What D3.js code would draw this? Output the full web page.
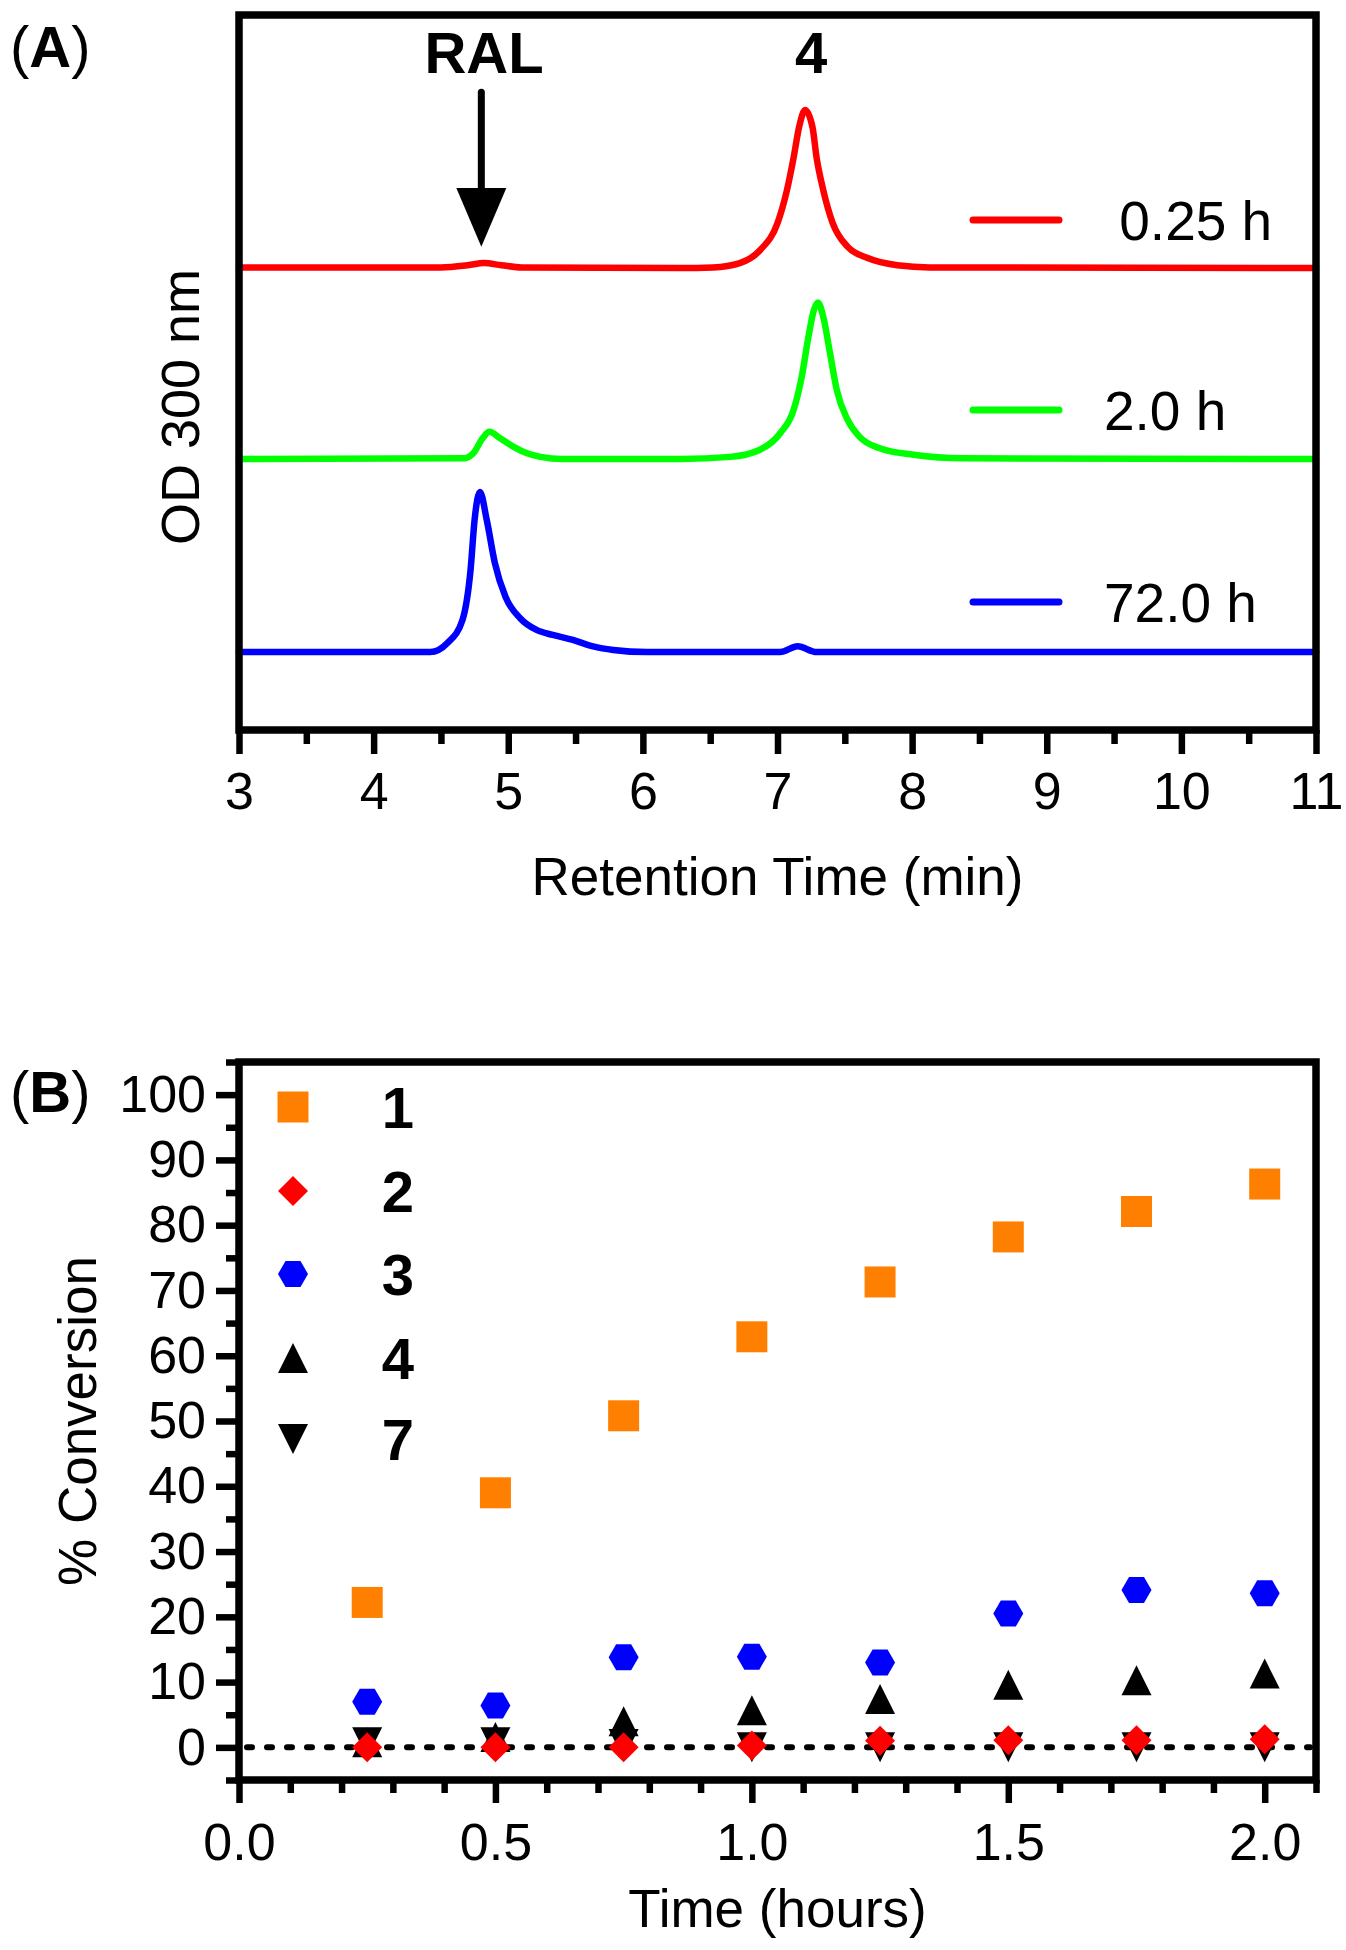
<!DOCTYPE html>
<html><head><meta charset="utf-8">
<script src="https://cdn.jsdelivr.net/npm/d3@7"></script>
<style>
body{margin:0;background:#fff}
svg text{font-family:"Liberation Sans",Arial,Helvetica,sans-serif;fill:#000}
</style>
</head><body>
<svg id="chart" width="1346" height="1950"></svg>
<script>
// ---------- Panel A data (chromatograms) ----------
const A_X_TICKS = [3,4,5,6,7,8,9,10,11];
const A_X_MINOR = [3.5,4.5,5.5,6.5,7.5,8.5,9.5,10.5];
const A_LABELS = [" 0.25 h","2.0 h","72.0 h"];
const A_COLORS = ["#ff0000","#00ff00","#0000ff"];

const A_T_RED  = [3.00,4.50,4.70,4.82,4.95,5.10,6.28,6.52,6.72,6.87,7.00,7.07,7.12,7.16,7.205,7.26,7.29,7.34,7.41,7.52,7.67,7.89,8.13,11.0];
const A_V_RED  = [64.7,64.7,65.0,65.3,65.0,64.7,64.6,64.7,65.3,67.1,70.9,75.5,80.1,84.3,86.7,84.3,80.1,75.5,70.9,67.6,66.0,65.0,64.7,64.6];

const A_T_GREEN = [3.00,4.67,4.74,4.81,4.86,4.94,5.04,5.14,5.24,5.40,6.28,6.65,6.87,7.02,7.12,7.18,7.23,7.27,7.30,7.34,7.39,7.44,7.52,7.61,7.76,8.01,8.38,11.0];
const A_V_GREEN = [37.9,38.0,38.7,40.8,41.7,40.8,39.6,38.7,38.2,37.9,37.9,38.2,39.2,41.5,44.8,49.4,55.0,58.7,59.8,57.8,52.7,47.6,43.4,41.0,39.4,38.5,38.0,37.9];

const A_T_BLUE = [3.00,4.42,4.55,4.66,4.72,4.75,4.79,4.84,4.90,4.98,5.09,5.21,5.33,5.48,5.63,5.78,6.03,7.02,7.15,7.29,11.0];
const A_V_BLUE = [10.9,10.9,12.2,15.4,22.4,29.4,33.3,29.4,23.4,18.6,15.6,14.0,13.3,12.6,11.7,11.2,10.9,10.9,11.7,10.9,10.9];

// ---------- Panel B data (% conversion) ----------
const B_TIME = [0.25,0.5,0.75,1.0,1.25,1.5,1.75,2.0];
const B_S1 = [22.2,39.0,50.8,62.9,71.3,78.2,82.1,86.3];
const B_S2 = [0.0,0.0,0.0,0.3,1.0,1.1,1.1,1.25];
const B_S3 = [7.0,6.4,13.8,13.9,13.0,20.5,24.1,23.6];
const B_S4 = [0.8,1.6,4.0,5.7,7.4,9.6,10.3,11.3];
const B_S7 = [0.8,0.8,0.5,0.0,0.0,0.0,0.0,0.0];
const B_NAMES = ["1","2","3","4","7"];
const B_COLORS = ["#ff8000","#ff0000","#0000ff","#000000","#000000"];
const B_Y_TICKS = [0,10,20,30,40,50,60,70,80,90,100];
const B_Y_MINOR = [-5,5,15,25,35,45,55,65,75,85,95,105];
const B_X_TICKS = [0,0.5,1.0,1.5,2.0];
const B_X_MINOR = [0.1,0.2,0.3,0.4,0.6,0.7,0.8,0.9,1.1,1.2,1.3,1.4,1.6,1.7,1.8,1.9,2.1];

const svg = d3.select("#chart");
const FONT = '"Liberation Sans",Arial,Helvetica,sans-serif';

// ================= PANEL A =================
const A = {left:239, right:1316, top:15, bottom:730};
const xA = d3.scaleLinear().domain([3,11]).range([A.left, A.right]);
const yA = d3.scaleLinear().domain([0,100]).range([A.bottom, A.top]);
const gA = svg.append("g");

const traces = [
  {t:A_T_RED, v:A_V_RED, c:A_COLORS[0]},
  {t:A_T_GREEN, v:A_V_GREEN, c:A_COLORS[1]},
  {t:A_T_BLUE, v:A_V_BLUE, c:A_COLORS[2]}
];
const lineA = d3.line().x(d=>xA(d[0])).y(d=>yA(d[1])).curve(d3.curveMonotoneX);
traces.forEach(tr=>{
  gA.append("path").datum(d3.zip(tr.t, tr.v))
    .attr("d", lineA).attr("fill","none").attr("stroke", tr.c)
    .attr("stroke-width",6.5).attr("stroke-linejoin","round").attr("stroke-linecap","round");
});

function styleAxis(g, fs){
  g.select(".domain").remove();
  g.selectAll(".tick line").attr("stroke","#000").attr("stroke-width",6.5);
  g.selectAll(".tick text").attr("font-size",fs).attr("font-family",FONT).attr("fill","#000");
}

// x axis A (major + minor)
const axA = gA.append("g").attr("transform",`translate(0,${A.bottom})`)
  .call(d3.axisBottom(xA).tickValues(A_X_TICKS).tickFormat(d3.format("d")).tickSize(24).tickPadding(18));
styleAxis(axA, 52);
const axAm = gA.append("g").attr("transform",`translate(0,${A.bottom})`)
  .call(d3.axisBottom(xA).tickValues(A_X_MINOR).tickFormat("").tickSize(14));
styleAxis(axAm, 52);

// frame A
gA.append("rect").attr("x",A.left).attr("y",A.top).attr("width",A.right-A.left).attr("height",A.bottom-A.top)
  .attr("fill","none").attr("stroke","#000").attr("stroke-width",7.5);

// axis titles A
gA.append("text").attr("x",(A.left+A.right)/2).attr("y",895).attr("text-anchor","middle")
  .attr("font-size",53).text("Retention Time (min)");
gA.append("text").attr("transform","translate(199,407) rotate(-90)").attr("text-anchor","middle")
  .attr("font-size",54).text("OD 300 nm");

// panel label (A)
const tA = gA.append("text").attr("x",10).attr("y",67).attr("font-size",58);
tA.append("tspan").text("(");
tA.append("tspan").attr("font-weight","bold").text("A");
tA.append("tspan").text(")");

// annotations
gA.append("text").attr("x",xA(4.82)).attr("y",yA(91.9)).attr("text-anchor","middle")
  .attr("font-size",58).attr("font-weight","bold").text("RAL");
gA.append("text").attr("x",xA(7.25)).attr("y",yA(91.9)).attr("text-anchor","middle")
  .attr("font-size",58).attr("font-weight","bold").text("4");
const ax = xA(4.8);
gA.append("line").attr("x1",ax).attr("x2",ax).attr("y1",yA(89.2)).attr("y2",yA(75))
  .attr("stroke","#000").attr("stroke-width",7).attr("stroke-linecap","round");
gA.append("path").attr("d",`M${ax-25},${yA(75.8)} L${ax+25},${yA(75.8)} L${ax},${yA(67.6)} Z`).attr("fill","#000");

// legend A
const legY = [220,410,602];
A_LABELS.forEach((lab,i)=>{
  gA.append("line").attr("x1",973).attr("x2",1059).attr("y1",legY[i]).attr("y2",legY[i])
    .attr("stroke",A_COLORS[i]).attr("stroke-width",7).attr("stroke-linecap","round");
  gA.append("text").attr("x",1104).attr("y",legY[i]+20).attr("font-size",55)
    .style("white-space","pre").text(lab);
});

// ================= PANEL B =================
const B = {left:239, right:1316, top:1062, bottom:1780};
const xB = d3.scaleLinear().domain([0,2.1]).range([B.left, B.right]);
const yB = d3.scaleLinear().domain([-5,105]).range([B.bottom, B.top]);
const gB = svg.append("g");

// zero dotted line
gB.append("line").attr("x1",xB(0)+8).attr("x2",xB(2.1)-6).attr("y1",yB(0)).attr("y2",yB(0))
  .attr("stroke","#000").attr("stroke-width",6).attr("stroke-dasharray","5,15").attr("stroke-linecap","round");

// axes B
const axBx = gB.append("g").attr("transform",`translate(0,${B.bottom})`)
  .call(d3.axisBottom(xB).tickValues(B_X_TICKS).tickFormat(d3.format(".1f")).tickSize(23).tickPadding(20));
styleAxis(axBx, 52);
const axBxm = gB.append("g").attr("transform",`translate(0,${B.bottom})`)
  .call(d3.axisBottom(xB).tickValues(B_X_MINOR).tickFormat("").tickSize(13));
styleAxis(axBxm, 52);
const axBy = gB.append("g").attr("transform",`translate(${B.left},0)`)
  .call(d3.axisLeft(yB).tickValues(B_Y_TICKS).tickFormat(d3.format("d")).tickSize(23).tickPadding(10));
styleAxis(axBy, 52);
const axBym = gB.append("g").attr("transform",`translate(${B.left},0)`)
  .call(d3.axisLeft(yB).tickValues(B_Y_MINOR).tickFormat("").tickSize(13));
styleAxis(axBym, 52);

gB.append("rect").attr("x",B.left).attr("y",B.top).attr("width",B.right-B.left).attr("height",B.bottom-B.top)
  .attr("fill","none").attr("stroke","#000").attr("stroke-width",7.5);

// symbol paths
const shapes = {
  square: "M-15.5,-15.5H15.5V15.5H-15.5Z",
  diamond: "M0,-15L15,0L0,15L-15,0Z",
  hexagon: "M-15,0L-7.5,-13L7.5,-13L15,0L7.5,13L-7.5,13Z",
  up: "M0,-15L15,15L-15,15Z",
  down: "M0,15L15,-15L-15,-15Z"
};
const series = [
  {vals:B_S1, shape:"square", c:B_COLORS[0], name:B_NAMES[0]},
  {vals:B_S2, shape:"diamond", c:B_COLORS[1], name:B_NAMES[1]},
  {vals:B_S3, shape:"hexagon", c:B_COLORS[2], name:B_NAMES[2]},
  {vals:B_S4, shape:"up", c:B_COLORS[3], name:B_NAMES[3]},
  {vals:B_S7, shape:"down", c:B_COLORS[4], name:B_NAMES[4]}
];
const drawOrder = [0,2,4,3,1];
drawOrder.forEach(i=>{
  const s = series[i];
  gB.append("g").selectAll("path").data(d3.zip(B_TIME, s.vals)).join("path")
    .attr("transform",d=>`translate(${xB(d[0])},${yB(d[1])})`)
    .attr("d",shapes[s.shape]).attr("fill",s.c);
});

// legend B
const legBY = [1107,1191,1274,1358,1439];
series.forEach((s,i)=>{
  gB.append("path").attr("transform",`translate(293,${legBY[i]})`).attr("d",shapes[s.shape]).attr("fill",s.c);
  gB.append("text").attr("x",398).attr("y",legBY[i]+21).attr("text-anchor","middle")
    .attr("font-size",58).attr("font-weight","bold").text(s.name);
});

// titles B
gB.append("text").attr("x",(B.left+B.right)/2).attr("y",1927).attr("text-anchor","middle")
  .attr("font-size",53).text("Time (hours)");
gB.append("text").attr("transform","translate(96,1421) rotate(-90)").attr("text-anchor","middle")
  .attr("font-size",53).text("% Conversion");
const tB = gB.append("text").attr("x",10).attr("y",1112).attr("font-size",58);
tB.append("tspan").text("(");
tB.append("tspan").attr("font-weight","bold").text("B");
tB.append("tspan").text(")");
</script>
</body></html>
